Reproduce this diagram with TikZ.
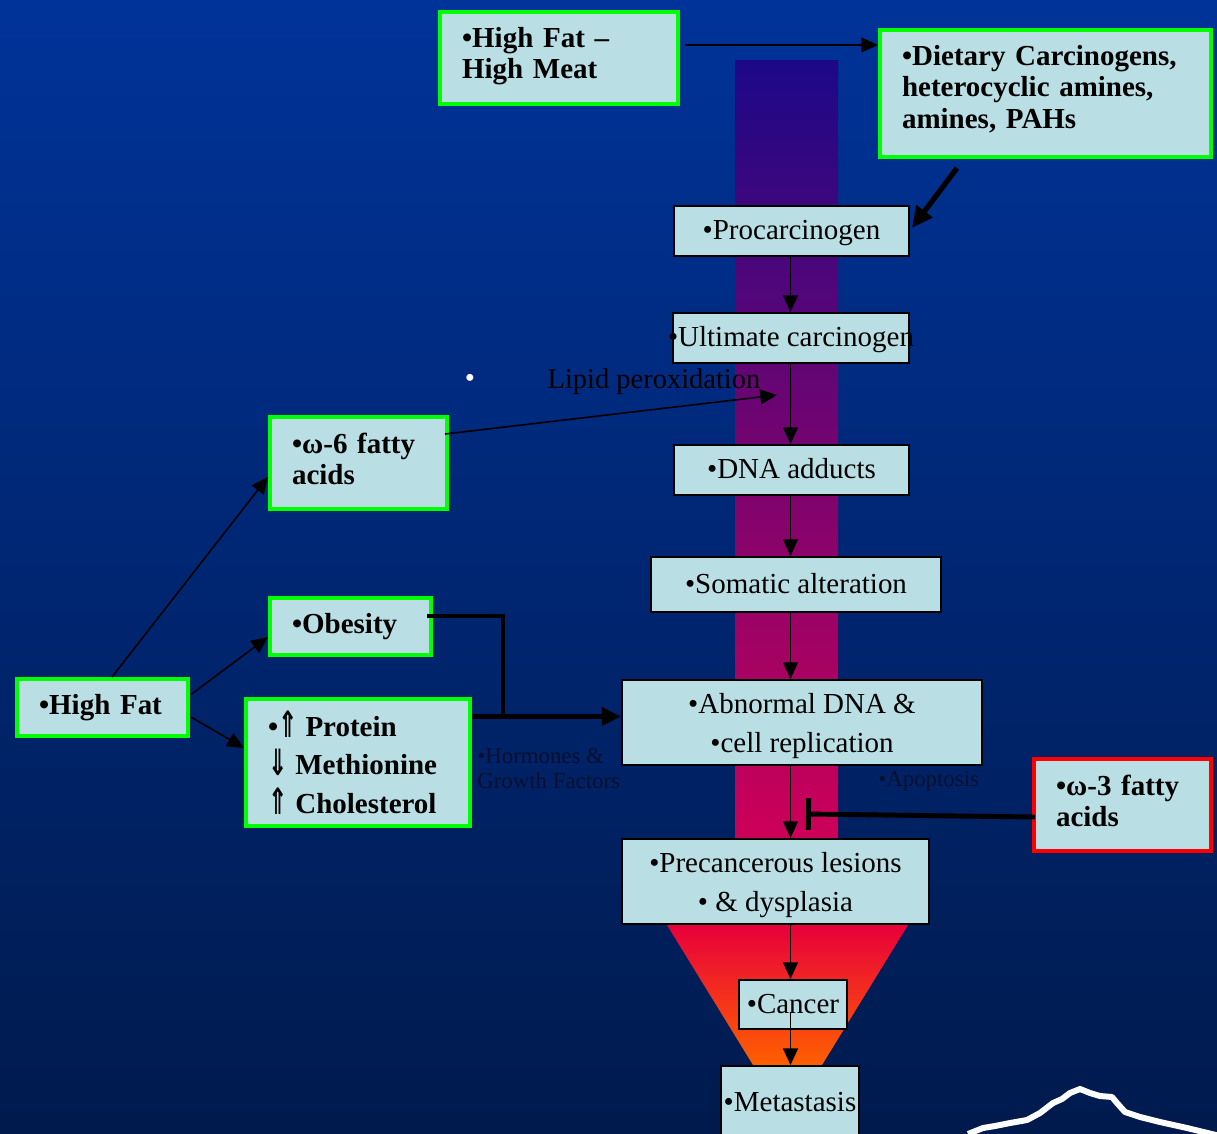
\documentclass[tikz,border=0pt]{standalone}
\usepackage{fontspec}
\usepackage{graphicx}
\setmainfont{Liberation Serif}
\newfontfamily\arrfont{DejaVu Sans}
\usetikzlibrary{arrows.meta}
\definecolor{bgtop}{RGB}{0,51,153}
\definecolor{bgbot}{RGB}{0,26,77}
\definecolor{boxfill}{RGB}{185,223,228}
\definecolor{gbord}{RGB}{0,255,0}
\definecolor{rbord}{RGB}{255,0,0}
\definecolor{colA}{RGB}{28,8,135}
\definecolor{colB}{RGB}{118,0,140}
\definecolor{colC}{RGB}{205,0,88}
\definecolor{trA}{RGB}{232,0,58}
\definecolor{trB}{RGB}{242,0,42}
\definecolor{trC}{RGB}{255,95,0}
\definecolor{dimtext}{RGB}{8,16,48}
\newcommand{\myup}{\raisebox{-0.5pt}{\scalebox{0.8}[1.25]{\arrfont ⇑}}}
\newcommand{\mydown}{\raisebox{-0.5pt}{\scalebox{0.8}[1.25]{\arrfont ⇓}}}
\begin{document}
\begin{tikzpicture}[x=0.02cm,y=-0.02cm,
  gbox/.style={draw=gbord,line width=2.3pt,fill=boxfill,inner sep=0pt,align=left,
     font=\bfseries\fontsize{16.5}{18}\selectfont},
  rbox/.style={gbox,draw=rbord},
  bbox/.style={draw=black,line width=1.1pt,fill=boxfill,inner sep=0pt,align=center,
     font=\fontsize{16.5}{22}\selectfont},
  oneline/.style={text height=13.2pt,text depth=3pt},
  arr/.style={line width=0.9pt,-{Triangle[length=9.5pt,width=8.5pt]}},
  thkarr/.style={line width=3.2pt,-{Triangle[length=11pt,width=10pt]}},
  dkarr/.style={line width=3pt,-{Triangle[length=12pt,width=11pt]}},
  thk/.style={line width=2.6pt},
  small/.style={text=dimtext,inner sep=0pt,align=left,font=\fontsize{13}{14.2}\selectfont}
]
\useasboundingbox (0,0) rectangle (1217,1133);
\clip (0,0) rectangle (1217,1133);
% background
\shade[top color=bgtop,bottom color=bgbot] (0,0) rectangle (1217,1133);
% gradient column and funnel
\shade[top color=colA,middle color=colB,bottom color=colC] (735,60) rectangle (838,837);
\shade[top color=trA,middle color=trB,bottom color=trC] (667,925) -- (908,925) -- (822,1065) -- (753,1065) -- cycle;
% white outline at bottom right
\draw[white,line width=3.4pt,line join=round] (968,1134) -- (983,1128) -- (995,1126) -- (1010,1123) -- (1027,1120) -- (1040,1113) -- (1053,1103) -- (1062,1099) -- (1070,1093) -- (1080,1089) -- (1090,1093) -- (1100,1096) -- (1112,1097) -- (1117,1103) -- (1125,1112) -- (1140,1117) -- (1160,1122) -- (1187,1128) -- (1220,1136);

% green boxes
\node[gbox,minimum width=4.76cm,minimum height=1.84cm,text width=3.88cm,text height=9.5pt] (hfhm) at (559,58) {•High Fat –\\High Meat};
\node[gbox,minimum width=6.62cm,minimum height=2.54cm,text width=5.74cm,text height=6.3pt,
      font=\bfseries\fontsize{16.5}{17.8}\selectfont] (diet) at (1045.5,93.5)
      {•Dietary Carcinogens,\\heterocyclic amines,\\amines, PAHs};
\node[gbox,minimum width=3.54cm,minimum height=1.84cm,text width=2.66cm,text height=7pt] (w6) at (358.5,463) {•ω-6 fatty\\acids};
\node[gbox,minimum width=3.22cm,minimum height=1.14cm,text width=2.34cm] (obes) at (350.5,626.5) {•Obesity};
\node[gbox,minimum width=3.42cm,minimum height=1.14cm,text width=2.54cm] (hf) at (102.5,707.5) {•High Fat};
\node[gbox,minimum width=4.48cm,minimum height=2.54cm,text width=3.60cm,
      font=\bfseries\fontsize{16.5}{21.8}\selectfont] (prot) at (358,762.5)
      {•\myup\hspace{-1pt}\ Protein\\\mydown\hspace{-1pt}\ Methionine\\\myup\hspace{-1pt}\ Cholesterol};
\node[rbox,minimum width=3.54cm,minimum height=1.84cm,text width=2.66cm,text height=7pt] (w3) at (1122.5,805) {•ω-3 fatty\\acids};

% pathway boxes
\node[bbox,oneline,minimum width=4.70cm,minimum height=1.00cm] (proc) at (791.5,231) {•Procarcinogen};
\node[bbox,oneline,minimum width=4.72cm,minimum height=1.00cm] (ult) at (791,338) {\makebox[0pt]{•Ultimate carcinogen}};
\node[bbox,oneline,minimum width=4.70cm,minimum height=1.00cm] (dna) at (791.5,470) {•DNA adducts};
\node[bbox,oneline,minimum width=5.80cm,minimum height=1.10cm] (som) at (796,584.5) {•Somatic alteration};
\node[bbox,text height=37.7pt,minimum width=7.20cm,minimum height=1.70cm] (abn) at (802,722.5) {•Abnormal DNA \&\\•cell replication};
\node[bbox,text height=37.8pt,minimum width=6.14cm,minimum height=1.70cm] (prec) at (775.5,881.5) {•Precancerous lesions\\• \& dysplasia};
\node[bbox,oneline,minimum width=2.16cm,minimum height=0.98cm] (cancer) at (793,1004.5) {•Cancer};
\node[bbox,oneline,minimum width=2.76cm,minimum height=1.48cm] (meta) at (790,1103) {•Metastasis};

% labels
\node[inner sep=0pt,font=\fontsize{16.2}{18}\selectfont] (lipid) at (654,382) {Lipid peroxidation};
\node[text=white,inner sep=0pt,font=\fontsize{16.5}{18}\selectfont] (wdot) at (470,381) {•};
\node[small,anchor=west] (horm) at (477,768.5) {•Hormones \&\\Growth Factors};
\node[small,anchor=west] (apop) at (878,781) {•Apoptosis};

% connectors
\coordinate (axis) at (790.5,0);
\draw[arr] ([shift={(5,-13)}]hfhm.east) -- ([shift={(0,-48.5)}]diet.west);
\draw[dkarr] ([shift={(-88.5,9)}]diet.south) -- ([shift={(2,-3)}]proc.east);
\draw[arr] (proc.south -| axis) -- (ult.north -| axis);
\draw[arr] (ult.south -| axis) -- (dna.north -| axis);
\draw[arr] (dna.south -| axis) -- (som.north -| axis);
\draw[arr] (som.south -| axis) -- (abn.north -| axis);
\draw[arr] (abn.south -| axis) -- (prec.north -| axis);
\draw[arr] (prec.south -| axis) -- (cancer.north -| axis);
\coordinate (cstart) at ([shift={(0,-18)}]cancer.south);
\draw[arr] (cstart -| axis) -- (meta.north -| axis);
\coordinate (lpend) at (777,395);
\draw[arr] ([shift={(-4,-29)}]w6.east) -- (lpend);
\draw[arr] ([shift={(9.5,0)}]hf.north) -- ([shift={(0,14)}]w6.west);
\draw[arr] ([shift={(1,-13)}]hf.east) -- ([shift={(0,10.5)}]obes.west);
\draw[arr] ([shift={(1,9.5)}]hf.east) -- ([shift={(0,-14.5)}]prot.west);
\coordinate (join) at (503,716.5);
\draw[thk] ([shift={(-6,-10.5)}]obes.east) -| (join);
\draw[thkarr] ([shift={(0,-46)}]prot.east) -- ([shift={(0,-6)}]abn.west);
\coordinate (inh) at (806,814);
\draw[line width=2.8pt,-{Bar[width=18pt]}] ([shift={(3,12)}]w3.west) -- (inh);
\end{tikzpicture}
\end{document}
